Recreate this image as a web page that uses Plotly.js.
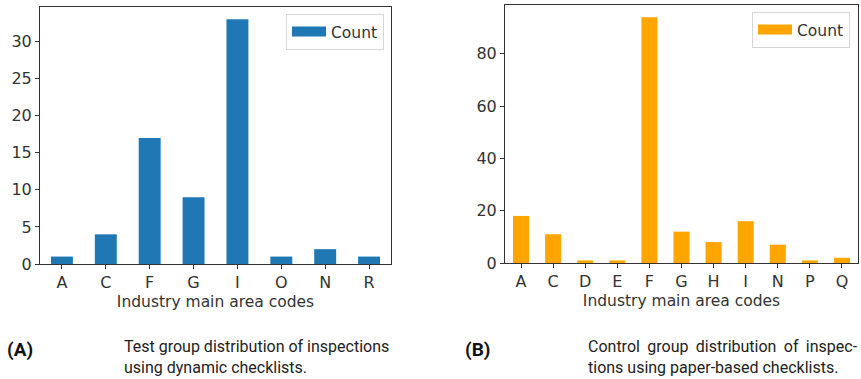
<!DOCTYPE html>
<html>
<head>
<meta charset="utf-8">
<script src="https://cdn.plot.ly/plotly-3.0.1.min.js"></script>
<style>html,body{margin:0;padding:0;background:#fff;}#chart{width:861px;height:379px;}</style>
</head>
<body>
<div id="chart"></div>
<script>
// Panel A: test group (dynamic checklists)
const testCategories = ["A", "C", "F", "G", "I", "O", "N", "R"];
const testCounts = [1, 4, 17, 9, 33, 1, 2, 1];
const testTicks = [0, 5, 10, 15, 20, 25, 30];

// Panel B: control group (paper-based checklists)
const controlCategories = ["A", "C", "D", "E", "F", "G", "H", "I", "N", "P", "Q"];
const controlCounts = [18, 11, 1, 1, 94, 12, 8, 16, 7, 1, 2];
const controlTicks = [0, 20, 40, 60, 80];

const seriesName = "Count";
const xTitle = "Industry main area codes";
const labelA = "(A)";
const labelB = "(B)";
const captionA = ["Test group distribution of inspections", "using dynamic checklists."];
const captionB = ["Control group distribution of inspec-", "tions using paper-based checklists."];

const W = 861, H = 379;
const BLUE = "#1f77b4", ORANGE = "#ffa500";
const INK = "#333333";
const tickFont = {family: "DejaVu Sans", size: 16, color: INK};
const capFont = {family: "Roboto", size: 16, color: "#222"};

function px(x) { return x / W; }
function py(y) { return 1 - y / H; }

const traces = [
  {type: "bar", x: testCategories, y: testCounts, name: seriesName, width: 0.5,
   marker: {color: BLUE, line: {width: 0}}, xaxis: "x", yaxis: "y", showlegend: false, hoverinfo: "x+y"},
  {type: "scatter", mode: "lines", x: [null], y: [null], name: seriesName,
   line: {color: BLUE, width: 11}, xaxis: "x", yaxis: "y", legend: "legend", showlegend: true},
  {type: "bar", x: controlCategories, y: controlCounts, name: seriesName, width: 0.5,
   marker: {color: ORANGE, line: {width: 0}}, xaxis: "x2", yaxis: "y2", showlegend: false, hoverinfo: "x+y"},
  {type: "scatter", mode: "lines", x: [null], y: [null], name: seriesName,
   line: {color: ORANGE, width: 11}, xaxis: "x2", yaxis: "y2", legend: "legend2", showlegend: true}
];

const axisCommon = {
  showline: true, linecolor: INK, linewidth: 1, mirror: true,
  ticks: "outside", ticklen: 4, tickwidth: 1, tickcolor: INK,
  showgrid: false, zeroline: false, tickfont: tickFont, fixedrange: true
};

const testMax = Math.max(...testCounts);
const controlMax = Math.max(...controlCounts);
const titleFont = {family: "DejaVu Sans", size: 15.5, color: INK};
const legendFont = {family: "DejaVu Sans", size: 15.5, color: INK};

const layout = {
  width: W, height: H,
  margin: {l: 0, r: 0, t: 0, b: 0},
  paper_bgcolor: "#fff", plot_bgcolor: "#fff",
  font: {family: "DejaVu Sans", color: INK},
  xaxis: Object.assign({}, axisCommon, {
    domain: [px(40), px(391)], anchor: "y", type: "category",
    range: [-0.5, testCategories.length - 0.5],
    title: {text: xTitle, font: titleFont, standoff: 4}
  }),
  yaxis: Object.assign({}, axisCommon, {
    domain: [py(264), py(7)], anchor: "x",
    range: [0, testMax * 1.05], tickvals: testTicks
  }),
  xaxis2: Object.assign({}, axisCommon, {
    domain: [px(505), px(858)], anchor: "y2", type: "category",
    range: [-0.5, controlCategories.length - 0.5],
    title: {text: xTitle, font: titleFont, standoff: 4}
  }),
  yaxis2: Object.assign({}, axisCommon, {
    domain: [py(263), py(5)], anchor: "x2",
    range: [0, controlMax * 1.05], tickvals: controlTicks
  }),
  legend: {
    x: px(384), y: py(14), xanchor: "right", yanchor: "top",
    bgcolor: "#fff", bordercolor: "#d5d5d5", borderwidth: 1,
    font: legendFont, itemwidth: 34, entrywidth: 96
  },
  legend2: {
    x: px(850), y: py(12), xanchor: "right", yanchor: "top",
    bgcolor: "#fff", bordercolor: "#d5d5d5", borderwidth: 1,
    font: legendFont, itemwidth: 34, entrywidth: 96
  },
  annotations: [
    {text: "<b>" + labelA + "</b>", xref: "paper", yref: "paper", x: px(5), y: py(349),
     xanchor: "left", yanchor: "middle", showarrow: false,
     font: {family: "Roboto", size: 19, color: "#111"}},
    {text: captionA.join("<br>"), xref: "paper", yref: "paper", x: px(122), y: py(357),
     xanchor: "left", yanchor: "middle", align: "left", showarrow: false, font: capFont},
    {text: "<b>" + labelB + "</b>", xref: "paper", yref: "paper", x: px(463), y: py(349),
     xanchor: "left", yanchor: "middle", showarrow: false,
     font: {family: "Roboto", size: 19, color: "#111"}},
    {text: '<span style="word-spacing:3.4px">' + captionB[0] + '</span><br>' + captionB[1],
     xref: "paper", yref: "paper", x: px(586), y: py(357),
     xanchor: "left", yanchor: "middle", align: "left", showarrow: false, font: capFont}
  ]
};

Plotly.newPlot("chart", traces, layout, {displayModeBar: false, staticPlot: true});
</script>
</body>
</html>
